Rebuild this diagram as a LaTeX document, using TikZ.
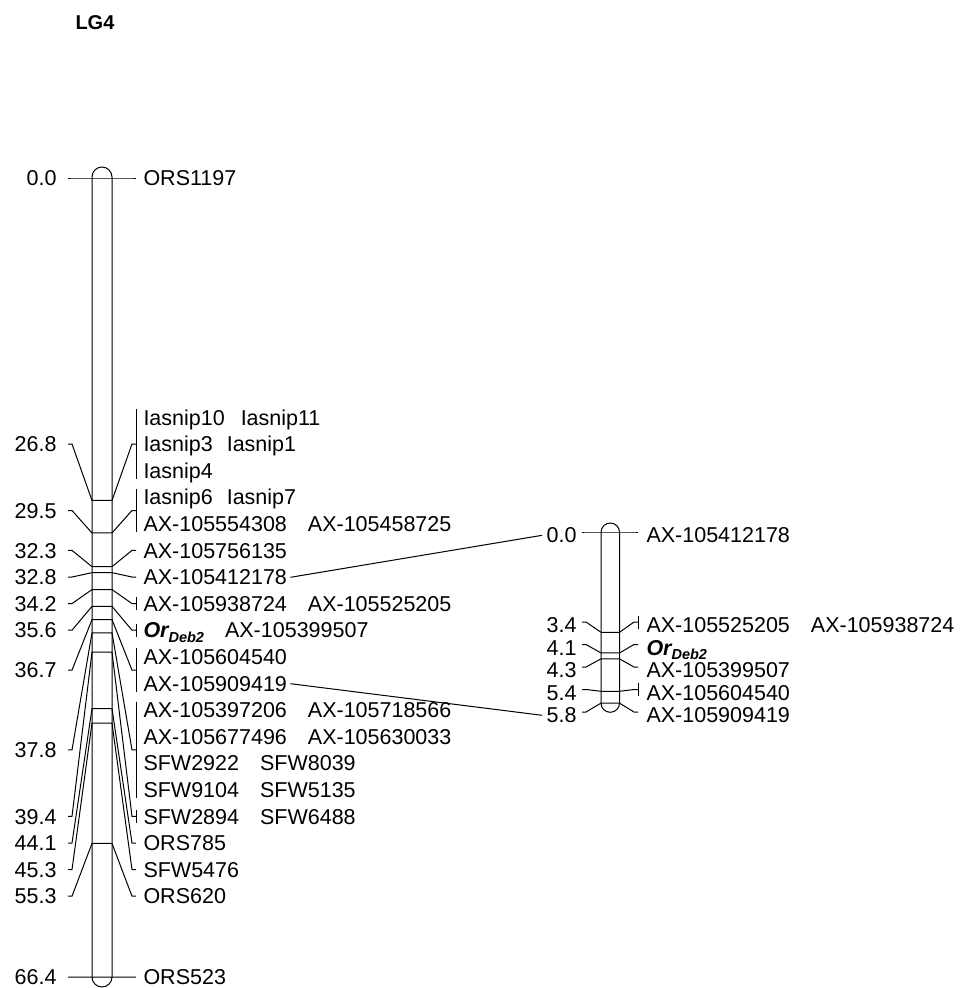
\documentclass[tikz,border=0pt]{standalone}
\usepackage{fontspec}
\setmainfont{Liberation Sans}
\newcommand\OrD{{\bfseries\itshape Or\raisebox{-4.5pt}{\fontsize{14.5}{14.5}\selectfont Deb2}}}
\newcommand\gapA{\hspace{21pt}}
\newcommand\gapI{\hspace{14pt}}
\begin{document}
\begin{tikzpicture}[x=1pt,y=-1pt,line width=1pt,
  every node/.style={inner sep=0pt},
  lab/.style={anchor=base west},
  numlab/.style={anchor=base east},
  chrom/.style={line width=1pt},
  title/.style={anchor=base west,font=\bfseries\fontsize{20}{22}\selectfont},
  font=\fontsize{21.5}{26}\selectfont]
\useasboundingbox (0,0) rectangle (979,988);
\node[title] (ttl) at (75,29) {LG4};
% ---------- left chromosome ----------
\draw[chrom,rounded corners=10pt] (92,167) rectangle (112,987);
\foreach \id/\cm/\ly/\lbl in {a/0.0/178/0.0, b/26.8/444/26.8, c/29.5/510.5/29.5,
  d/32.3/550.4/32.3, e/32.8/577/32.8, f/34.2/603.6/34.2, g/35.6/630.2/35.6,
  h/36.7/670.1/36.7, i/37.8/749.9/37.8, j/39.4/816.4/39.4, k/44.1/843/44.1,
  l/45.3/869.6/45.3, m/55.3/896.2/55.3, n/66.4/977/66.4}{
  \pgfmathsetmacro\py{178+12.033*\cm}
  \coordinate (L\id) at (92,\py);
  \coordinate (R\id) at (112,\py);
  \coordinate (lt\id) at (68,\ly);
  \coordinate (lk\id) at (72,\ly);
  \coordinate (rk\id) at (132,\ly);
  \coordinate (rt\id) at (136,\ly);
  \node[numlab] (n\id) at (57,{\ly+7.7}) {\lbl};
  \draw (lt\id) -- (lk\id) -- (L\id) -- (R\id) -- (rk\id) -- (rt\id);
}
\foreach \k/\txt in {0/{Iasnip10\hspace{16pt}Iasnip11}, 1/{Iasnip3\gapI Iasnip1}, 2/{Iasnip4},
  3/{Iasnip6\gapI Iasnip7}, 4/{AX-105554308\gapA AX-105458725}, 5/{AX-105756135},
  6/{AX-105412178}, 7/{AX-105938724\gapA AX-105525205}, 8/{\OrD\gapA AX-105399507},
  9/{AX-105604540}, 10/{AX-105909419}, 11/{AX-105397206\gapA AX-105718566},
  12/{AX-105677496\gapA AX-105630033}, 13/{SFW2922\gapA SFW8039},
  14/{SFW9104\gapA SFW5135}, 15/{SFW2894\gapA SFW6488}, 16/{ORS785},
  17/{SFW5476}, 18/{ORS620}}{
  \node[lab] (t\k) at (143,{417.4+26.6*\k+7.7}) {\txt};
}
\node[lab] (ttop) at (143,185.7) {ORS1197};
\node[lab] (tbot) at (143,984.7) {ORS523};
% brackets (left chromosome)
\draw (136,408.9) -- (136,479.1);
\draw (136,488.7) -- (136,532.3);
\draw (136,597.1) -- (136,610.1);
\draw (136,623.7) -- (136,636.7);
\draw (136,648.3) -- (136,691.9);
\draw (136,701.5) -- (136,798.3);
\draw (136,809.9) -- (136,822.9);
% ---------- right chromosome ----------
\draw[chrom,rounded corners=9.25pt] (601,523) rectangle (619.5,712.3);
\foreach \id/\cm/\ly/\lbl/\txt in {a/0.0/532/0.0/{AX-105412178},
  b/3.4/622/3.4/{AX-105525205\gapA AX-105938724}, c/4.1/644.5/4.1/{\OrD},
  d/4.3/667/4.3/{AX-105399507}, e/5.4/689.5/5.4/{AX-105604540},
  f/5.8/712/5.8/{AX-105909419}}{
  \pgfmathsetmacro\py{532+29.5*\cm}
  \coordinate (S\id) at (601,\py);
  \coordinate (T\id) at (619.5,\py);
  \coordinate (slt\id) at (582,\ly);
  \coordinate (slk\id) at (586,\ly);
  \coordinate (srk\id) at (634,\ly);
  \coordinate (srt\id) at (638,\ly);
  \node[numlab] (m\id) at (577,{\ly+10.7}) {\lbl};
  \node[lab] (u\id) at (646,{\ly+10.7}) {\txt};
  \draw (slt\id) -- (slk\id) -- (S\id) -- (T\id) -- (srk\id) -- (srt\id);
}
\draw (638,615.5) -- (638,628.5);
\draw (638,683) -- (638,696);
% ---------- links between the maps ----------
\draw ([xshift=3pt]t6.east) -- ([xshift=-4pt]ma.west);
\draw ([xshift=3pt]t10.east) -- ([xshift=-4pt]mf.west);
\end{tikzpicture}
\end{document}
